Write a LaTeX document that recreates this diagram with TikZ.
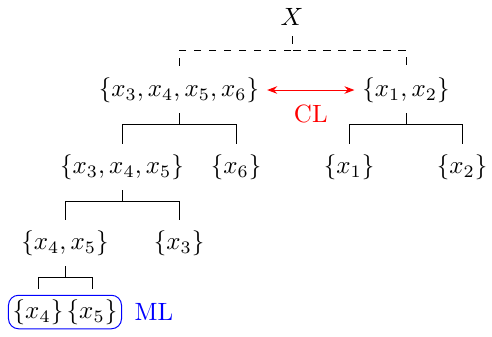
\documentclass[tikz,border=0pt]{standalone}
\usetikzlibrary{arrows.meta,positioning,fit,calc}
\begin{document}
\begin{tikzpicture}[x=0.4pt, y=-0.4pt,
      set/.style={inner sep=2pt},
      fork/.style={line width=0.4pt, shorten <=2pt, shorten >=2pt},
      cl/.style={{Stealth[length=4pt]}-{Stealth[length=4pt]}, red, line width=0.4pt, shorten <=1pt, shorten >=1pt}
    ]
      \useasboundingbox (0,0) rectangle (492,336);

      % levels of the tree
      \node[set] (n0) at (292,17) {$X$};
      \node[set] (n1) at (179,90) {$\{x_3,x_4,x_5,x_6\}$};
      \node[set] (n2) at (406,90) {$\{x_1,x_2\}$};
      \node[set] (n11) at (122,167) {$\{x_3,x_4,x_5\}$};
      \node[set] (n12) at (236,167) {$\{x_6\}$};
      \node[set] (n21) at (349,167) {$\{x_1\}$};
      \node[set] (n22) at (462,167) {$\{x_2\}$};
      \node[set] (n111) at (65,243) {$\{x_4,x_5\}$};
      \node[set] (n112) at (179,243) {$\{x_3\}$};
      \node[set] (n1111) at (38,312) {$\{x_4\}$};
      \node[set] (n1112) at (92,312) {$\{x_5\}$};

      \draw[fork, dashed] (n0.south) -- ++(0,19) -| (n1.north);
      \draw[fork, dashed] (n0.south) -- ++(0,19) -| (n2.north);
      \draw[fork] (n1.south) -- ++(0,16) -| (n11.north);
      \draw[fork] (n1.south) -- ++(0,16) -| (n12.north);
      \draw[fork] (n2.south) -- ++(0,16) -| (n21.north);
      \draw[fork] (n2.south) -- ++(0,16) -| (n22.north);
      \draw[fork] (n11.south) -- ++(0,16) -| (n111.north);
      \draw[fork] (n11.south) -- ++(0,16) -| (n112.north);
      \draw[fork] (n111.south) -- ++(0,16) -| (n1111.north);
      \draw[fork] (n111.south) -- ++(0,16) -| (n1112.north);

      % constraints
      \draw[cl] (n1.east) -- (n2.west) node[midway, below=2.5pt, text=red] {CL};
      \node[draw=blue, rounded corners=4pt, line width=0.4pt, inner sep=-0.5pt, fit=(n1111)(n1112)] (ml) {};
      \node[right=1.5pt of ml, text=blue] (mltext) {ML};
    \end{tikzpicture}
\end{document}
